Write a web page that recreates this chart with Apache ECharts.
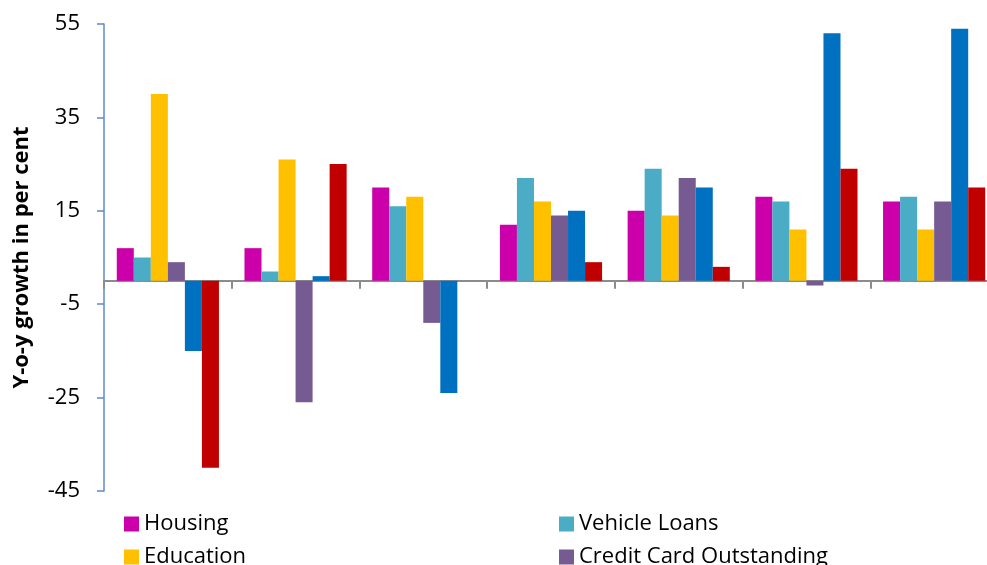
<!DOCTYPE html>
<html>
<head>
<meta charset="utf-8">
<script src="https://cdn.jsdelivr.net/npm/echarts@6/dist/echarts.min.js"></script>
<style>
html,body{margin:0;padding:0;background:#fff;}
#chart{width:987px;height:565px;}
</style>
</head>
<body>
<div id="chart"></div>
<script>
var categories = ['P1', 'P2', 'P3', 'P4', 'P5', 'P6', 'P7'];
var seriesNames = ['Housing', 'Vehicle Loans', 'Education', 'Credit Card Outstanding', 'Consumer Durables', 'Other Personal Loans'];
var housing = [7, 7, 20, 12, 15, 18, 17];
var vehicleLoans = [5, 2, 16, 22, 24, 17, 18];
var education = [40, 26, 18, 17, 14, 11, 11];
var creditCard = [4, -26, -9, 14, 22, -1, 17];
var consumerDurables = [-15, 1, -24, 15, 20, 53, 54];
var otherPersonal = [-40, 25, null, 4, 3, 24, 20];
var yTicks = { min: -45, max: 55, interval: 20 };
var colors = ['#CC00AA', '#4BACC6', '#FFC000', '#765B93', '#0070C0', '#C00000'];

var allData = [housing, vehicleLoans, education, creditCard, consumerDurables, otherPersonal];
var FONT = '"Open Sans", "DejaVu Sans", sans-serif';

var chart = echarts.init(document.getElementById('chart'), null, { renderer: 'canvas' });
var series = seriesNames.map(function (n, i) {
  return {
    name: n,
    type: 'bar',
    data: allData[i],
    barGap: '0%',
    barCategoryGap: '20%',
    itemStyle: { color: colors[i] },
    animation: false
  };
});

var legendText = { fontFamily: FONT, fontSize: 22, color: '#000', lineHeight: 22 };
chart.setOption({
  animation: false,
  color: colors,
  grid: { left: 104, top: 24, width: 894, height: 467, containLabel: false, outerBoundsMode: 'none' },
  legend: [
    {
      data: [seriesNames[0], seriesNames[2]],
      orient: 'vertical', left: 124, top: 513, height: 100, itemGap: 11,
      itemWidth: 15, itemHeight: 15, icon: 'rect',
      textStyle: legendText, padding: 0
    },
    {
      data: [seriesNames[1], seriesNames[3]],
      orient: 'vertical', left: 559, top: 513, height: 100, itemGap: 11,
      itemWidth: 15, itemHeight: 15, icon: 'rect',
      textStyle: legendText, padding: 0
    }
  ],
  xAxis: {
    type: 'category',
    data: categories,
    axisLine: { onZero: true, lineStyle: { color: '#8C8C8C', width: 2 } },
    axisTick: { show: true, alignWithLabel: false, length: 8, lineStyle: { color: '#8C8C8C', width: 2 } },
    axisLabel: { show: false },
    splitLine: { show: false }
  },
  yAxis: {
    type: 'value',
    min: yTicks.min, max: yTicks.max, interval: yTicks.interval,
    name: 'Y-o-y growth in per cent',
    nameLocation: 'middle',
    nameGap: 71,
    nameTextStyle: { fontFamily: FONT, fontSize: 22, fontWeight: 'bold', color: '#000' },
    axisLine: { show: true, lineStyle: { color: '#5B8BCB', width: 1.5 } },
    axisTick: { show: true, length: 7, lineStyle: { color: '#5B8BCB', width: 1.5 } },
    axisLabel: { fontFamily: FONT, fontSize: 22, color: '#000', margin: 24 },
    splitLine: { show: false }
  },
  series: series
});
</script>
</body>
</html>
